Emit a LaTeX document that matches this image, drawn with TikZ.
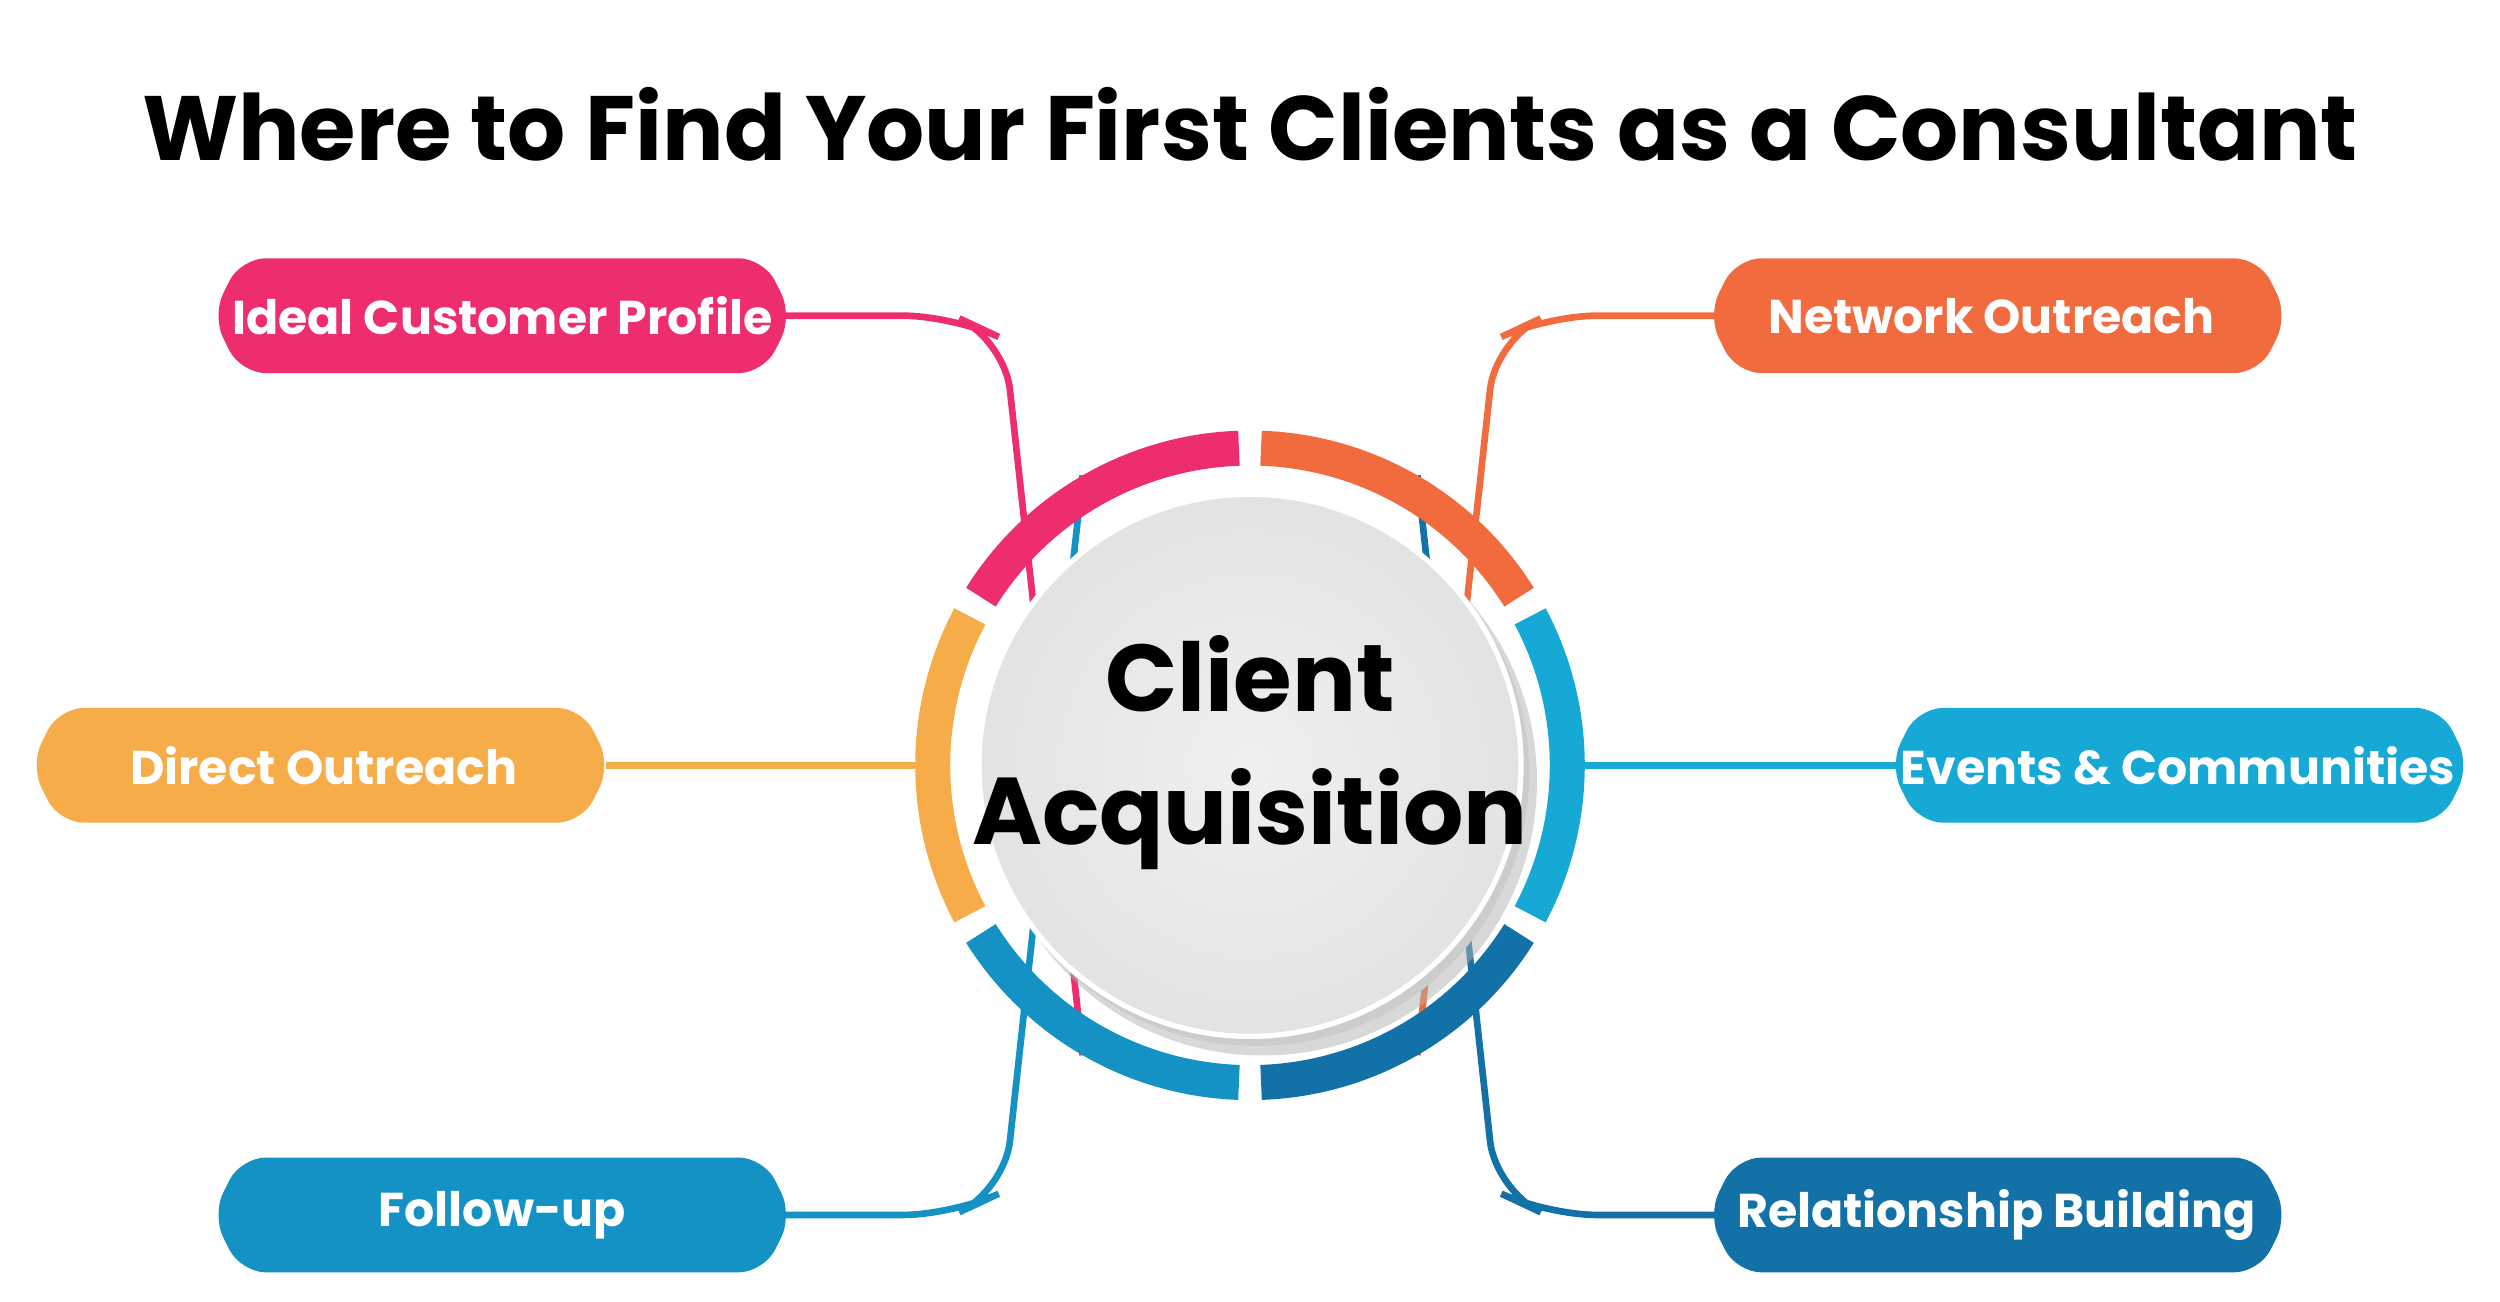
\documentclass[tikz,border=0pt]{standalone}
\usepackage{fontspec}
\setmainfont{Poppins}[BoldFont={* Bold}]
\begin{document}
\begin{tikzpicture}[x=0.01594cm,y=-0.01594cm,
  seg/.style={line width=0.35cm},
  con/.style={line width=1.9pt,rounded corners=0.5cm},
  lbl/.style={text=white,font=\bfseries\fontsize{13.5}{16}\selectfont}]
\definecolor{cpink}{HTML}{EE2D6E}
\definecolor{corange}{HTML}{F26B3F}
\definecolor{cyellow}{HTML}{F7AC4A}
\definecolor{ccyan}{HTML}{16A9D6}
\definecolor{cblue}{HTML}{1592C4}
\definecolor{cdark}{HTML}{1272A8}
\useasboundingbox (0,0) rectangle (1568,816);
\newcommand\hexlab[5]{% x1,x2,ymid,color,name
  \fill[#4,rounded corners=0.25cm] (#1,#3) -- (#1+18,#3-36) -- (#2-18,#3-36) -- (#2,#3) -- (#2-18,#3+36) -- (#1+18,#3+36) -- cycle;
  \node[lbl] (#5) at ({(#1+#2)/2},#3) {};}
\node[font=\bfseries\fontsize{26}{30}\selectfont] (title) at (784,78) {Where to Find Your First Clients as a Consultant};
% connectors
\coordinate (c) at (784,480);
\draw[con,cpink] (c)++(120:210) coordinate (p1) -- (630,213) -- (598,198) -- (480,198);
\draw[con,corange] (c)++(60:210) -- (938,213) -- (970,198) -- (1090,198);
\draw[con,cyellow] (574,480) -- (380,480);
\draw[con,ccyan] (994,480) -- (1190,480);
\draw[con,cblue] (c)++(-120:210) -- (630,747) -- (598,762) -- (480,762);
\draw[con,cdark] (c)++(-60:210) -- (938,747) -- (970,762) -- (1090,762);
% labels
\hexlab{133}{497}{198}{cpink}{l1}
\node[lbl] at (315,198) {Ideal Customer Profile};
\hexlab{1071}{1435}{198}{corange}{l2}
\node[lbl] at (1249,198) {Network Outreach};
\hexlab{19}{383}{480}{cyellow}{l3}
\node[lbl] at (203,480) {Direct Outreach};
\hexlab{1185}{1549}{480}{ccyan}{l4}
\node[lbl] at (1366,480) {Events \& Communities};
\hexlab{133}{497}{762}{cblue}{l5}
\node[lbl] at (315,762) {Follow-up};
\hexlab{1071}{1435}{762}{cdark}{l6}
\node[lbl] at (1252,762) {Relationship Building};
% ring segments (y axis flipped: angles measured clockwise visually)
\foreach \a/\col in {-150/cpink,-90/corange,-30/ccyan,30/cdark,90/cblue,150/cyellow}{
  \draw[seg,\col] (c) ++(\a+2:199) arc[start angle=\a+2,end angle=\a+58,radius=199];
}
% centre disc
\fill[black!30,opacity=0.5] (792,490) circle (172);
\fill[black!20] (788,485) circle (171);
\shade[inner color=gray!12,outer color=gray!22] (c) circle (170);
\draw[white,line width=1.5pt] (c) circle (170);
\node[align=center,font=\bfseries\fontsize{27}{38}\selectfont] (centre) at (784,472) {Client\\Acquisition};
\end{tikzpicture}
\end{document}
